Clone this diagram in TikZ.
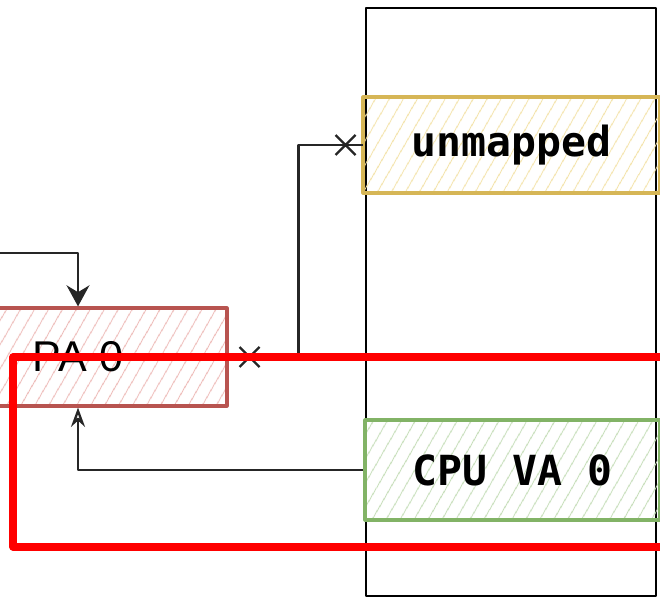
\documentclass[tikz,border=0pt]{standalone}
\usepackage{fontspec}
\setmainfont{Liberation Sans}
\newfontfamily\vafont{DejaVu Sans Mono}
\usetikzlibrary{positioning, arrows.meta, patterns.meta}
\usepackage{xcolor}
\definecolor{pared}{HTML}{B85450}
\definecolor{paredhatch}{HTML}{EDBAB7}
\definecolor{unyellow}{HTML}{D6B656}
\definecolor{unyellowhatch}{HTML}{F3E2A8}
\definecolor{vagreen}{HTML}{82B366}
\definecolor{vagreenhatch}{HTML}{C5DDB8}
\definecolor{markred}{HTML}{FF0000}

\begin{document}
\begin{tikzpicture}[x=0.02cm, y=-0.02cm, line join=round,
    region/.style={draw=#1, line width=1.8pt, inner sep=0pt,
          pattern={Lines[angle=60, distance=6.5pt, line width=0.55pt]}},
    vatext/.style={font=\vafont\bfseries\fontsize{23.6}{28}\selectfont},
    link/.style={line width=1.3pt, color=black!85}]
    \useasboundingbox (0,0) rectangle (660,598);
    \clip (0,0) rectangle (660,598);
    % memory column
    \node[draw, line width=1.6pt, minimum width=5.8cm, minimum height=11.76cm] (mem) at (511,302) {};
    \node[region=unyellow, pattern color=unyellowhatch, vatext,
          minimum width=5.94cm, minimum height=1.92cm] (unmapped) at (511.5,145) {unmapped};
    \node[region=vagreen, pattern color=vagreenhatch, vatext,
          minimum width=5.9cm, minimum height=2cm] (cpuva) at (512.5,470) {CPU VA 0};
    \node[region=pared, pattern color=paredhatch, font=\fontsize{24.5}{28}\selectfont,
          minimum width=5.96cm, minimum height=1.96cm] (pa) at (78,357) {PA 0};
    % connectors
    \coordinate (feed) at (-20,253);
    \draw[link, -{Stealth[length=12pt, width=13pt]}] (feed) -| (pa.north);
    \draw[link, -{Stealth[open, length=11pt, width=8pt]}] (cpuva.west) -| (pa.south);
    \draw[link] (pa.east) -- ++(70,0) |- (unmapped.west);
    \coordinate[right=0.42cm of pa.east] (crossa);
    \coordinate[left=0.34cm of unmapped.west] (crossb);
    \foreach \c in {crossa, crossb}
      \draw[link] (\c) +(-10,-10) -- +(10,10) +(-10,10) -- +(10,-10);
    % highlight
    \draw[markred, line width=4pt] (13,357) rectangle (700,547);
\end{tikzpicture}
\end{document}
